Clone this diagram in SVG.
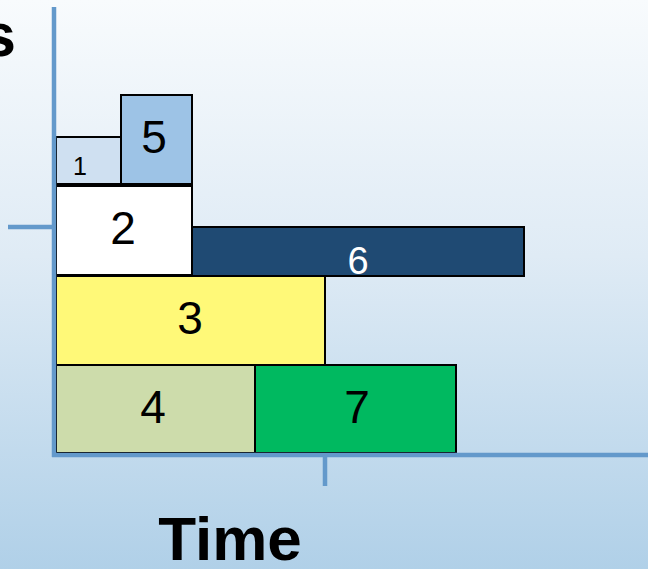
<svg xmlns="http://www.w3.org/2000/svg" width="648" height="569" viewBox="0 0 648 569">
<defs>
<linearGradient id="bg" x1="0" y1="0" x2="0" y2="1">
<stop offset="0" stop-color="#f8fbfd"/>
<stop offset="0.45" stop-color="#dfebf5"/>
<stop offset="1" stop-color="#b0d0e8"/>
</linearGradient>
<filter id="sh" x="-5%" y="-50%" width="110%" height="300%">
<feGaussianBlur stdDeviation="2"/>
</filter>
</defs>
<style>
.box{stroke:#000;stroke-width:2}
.lbl{font-family:"Liberation Sans",Arial,sans-serif;font-size:46px;text-anchor:middle;fill:#000}
.axis{stroke:#6399cb;stroke-width:4.5;fill:none}
.title{font-family:"Liberation Sans",Arial,sans-serif;font-weight:bold;font-size:62px;fill:#000}
</style>
<rect width="648" height="569" fill="url(#bg)"/>
<text class="title" x="16" y="56" text-anchor="end">s</text>
<text class="title" x="230" y="560" text-anchor="middle">Time</text>

<g id="task1"><rect class="box" x="56" y="137" width="65" height="47" fill="#cfe0f1"/><text class="lbl" x="80" y="175" style="font-size:25px">1</text></g>
<g id="task5"><rect class="box" x="121" y="95" width="71" height="89" fill="#9dc3e6"/><text class="lbl" x="154" y="153">5</text></g>
<g id="task2"><rect class="box" x="56" y="186" width="136" height="89" fill="#ffffff"/><text class="lbl" x="123" y="244">2</text></g>
<g id="task6"><rect class="box" x="192" y="227" width="332" height="49" fill="#1f4a73"/><text class="lbl" x="358" y="274" style="fill:#fff;font-size:38px">6</text></g>
<g id="task3"><rect class="box" x="56" y="276" width="269" height="89" fill="#fff978"/><text class="lbl" x="190" y="334">3</text></g>
<g id="task4"><rect class="box" x="56" y="365" width="199" height="88" fill="#cddcab"/><text class="lbl" x="153" y="423">4</text></g>
<g id="task7"><rect class="box" x="255" y="365" width="201" height="88" fill="#00b960"/><text class="lbl" x="357" y="423">7</text></g>

<g id="axes">
<line x1="56" y1="460" x2="648" y2="460" stroke="#8a9fb0" stroke-width="5" opacity="0.5" filter="url(#sh)"/>
<line class="axis" x1="54" y1="7" x2="54" y2="457"/>
<line class="axis" x1="52" y1="455" x2="648" y2="455"/>
<line class="axis" x1="8" y1="227" x2="54" y2="227"/>
<line class="axis" x1="325" y1="455" x2="325" y2="486"/>
</g>
</svg>
